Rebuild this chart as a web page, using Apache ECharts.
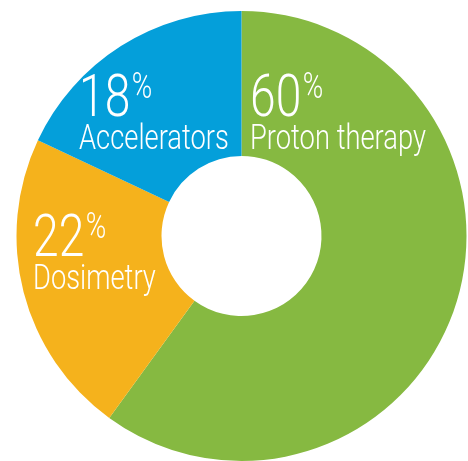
<!DOCTYPE html>
<html>
<head>
<meta charset="utf-8">
<script src="https://cdn.jsdelivr.net/npm/echarts@6/dist/echarts.min.js"></script>
<style>
  html, body { margin: 0; padding: 0; background: #ffffff; }
  #chart { width: 468px; height: 461px; }
</style>
</head>
<body>
<div id="chart"></div>
<script>
// Share of activity by field, in percent
const categories = ['Proton therapy', 'Dosimetry', 'Accelerators'];
const shares = [60, 22, 18];
const sliceColors = ['#86b941', '#f5b21c', '#049fda'];

// Top-left corner of each slice's caption block (px)
const captionAnchors = [
  [250, 71],
  [33, 211],
  [79, 71]
];

const FONT = 'Roboto, "Liberation Sans", sans-serif';
const NARROW = 0.77; // horizontal squeeze for a condensed look

const chart = echarts.init(document.getElementById('chart'), null, { renderer: 'canvas' });

const captions = categories.map((name, i) => ({
  type: 'text',
  x: captionAnchors[i][0],
  y: captionAnchors[i][1],
  scaleX: NARROW,
  silent: true,
  z: 10,
  style: {
    text: '{num|' + shares[i] + '}{pct|%}\n{name|' + name + '}',
    fill: '#ffffff',
    align: 'left',
    verticalAlign: 'top',
    fontFamily: FONT,
    fontWeight: 300,
    rich: {
      num: { fontSize: 60, lineHeight: 51, fontFamily: FONT, fontWeight: 300, fill: '#ffffff', verticalAlign: 'top' },
      pct: { fontSize: 36, lineHeight: 32, fontFamily: FONT, fontWeight: 300, fill: '#ffffff', verticalAlign: 'top', padding: [0, 0, 0, 2] },
      name: { fontSize: 35.5, lineHeight: 36, fontFamily: FONT, fontWeight: 300, fill: '#ffffff' }
    }
  }
}));

chart.setOption({
  animation: false,
  backgroundColor: '#ffffff',
  series: [{
    type: 'pie',
    center: [241.5, 236],
    radius: [80, 225],
    startAngle: 90,
    clockwise: true,
    silent: true,
    itemStyle: { borderWidth: 0 },
    data: categories.map((name, i) => ({
      name: name,
      value: shares[i],
      itemStyle: { color: sliceColors[i] }
    })),
    label: { show: false },
    labelLine: { show: false }
  }],
  graphic: captions
});
</script>
</body>
</html>
